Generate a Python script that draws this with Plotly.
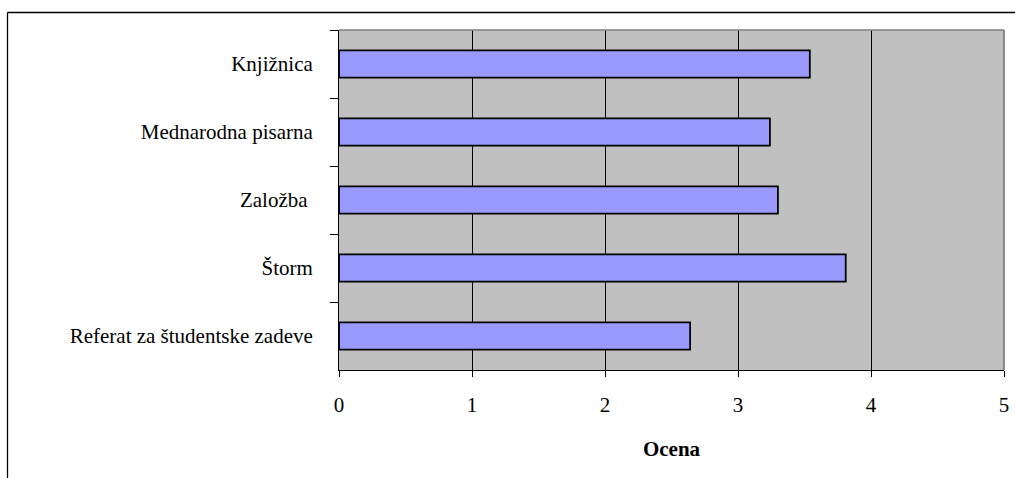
import plotly.graph_objects as go

# Service ratings (top to bottom as listed)
categories = ["Knjižnica", "Mednarodna pisarna", "Založba\u00a0", "Štorm", "Referat za študentske zadeve"]
scores = [3.54, 3.24, 3.30, 3.81, 2.64]
x_ticks = [0, 1, 2, 3, 4, 5]

W, H = 1015, 478
L, R, T, B = 339, 11, 30, 108
pw, ph = W - L - R, H - T - B

def px_x(p):
    return (p - L) / pw

def px_y(p):
    return (H - B - p) / ph

font_family = "Liberation Serif"

fig = go.Figure(
    go.Bar(
        x=scores,
        y=categories,
        orientation="h",
        marker=dict(color="#9999FF", line=dict(color="#000000", width=1.8)),
        hoverinfo="x+y",
    )
)

fig.update_layout(
    width=W,
    height=H,
    margin=dict(l=L, r=R, t=T, b=B, autoexpand=False),
    paper_bgcolor="#FFFFFF",
    plot_bgcolor="#C0C0C0",
    bargap=0.6,
    showlegend=False,
    font=dict(family=font_family, size=21, color="#000000"),
    shapes=[
        # outer frame: top and left edges
        dict(type="line", xref="paper", yref="paper",
             x0=px_x(7.5), x1=px_x(W + 5), y0=px_y(12.5), y1=px_y(12.5),
             line=dict(color="#000000", width=1.3), layer="below"),
        dict(type="line", xref="paper", yref="paper",
             x0=px_x(7.5), x1=px_x(7.5), y0=px_y(12.5), y1=px_y(H + 5),
             line=dict(color="#000000", width=1.3), layer="below"),
        # plot area top and right edges
        dict(type="line", xref="paper", yref="paper", x0=0, x1=1, y0=1, y1=1,
             line=dict(color="#808080", width=1.5), layer="above"),
        dict(type="line", xref="paper", yref="paper", x0=1, x1=1, y0=0, y1=1,
             line=dict(color="#808080", width=1.8), layer="above"),
    ],
)

fig.update_xaxes(
    range=[0, 5],
    tickvals=x_ticks,
    ticktext=[str(v) for v in x_ticks],
    ticks="outside",
    ticklen=6,
    tickcolor="#000000",
    tickwidth=1,
    showgrid=True,
    gridcolor="#000000",
    gridwidth=1,
    zeroline=False,
    showline=True,
    linecolor="#000000",
    linewidth=1,
    ticklabelstandoff=10,
    tickfont=dict(family=font_family, size=21),
    title=dict(text="<b>Ocena</b>", font=dict(family=font_family, size=21), standoff=25),
    fixedrange=True,
)

fig.update_yaxes(
    categoryorder="array",
    categoryarray=categories,
    autorange="reversed",
    ticks="outside",
    tickson="boundaries",
    ticklen=8,
    tickcolor="#000000",
    tickwidth=1,
    showgrid=False,
    zeroline=False,
    showline=True,
    linecolor="#000000",
    linewidth=1,
    ticklabelstandoff=21,
    tickfont=dict(family=font_family, size=21),
    fixedrange=True,
)

fig.write_html("out.html", config={"displayModeBar": False})
